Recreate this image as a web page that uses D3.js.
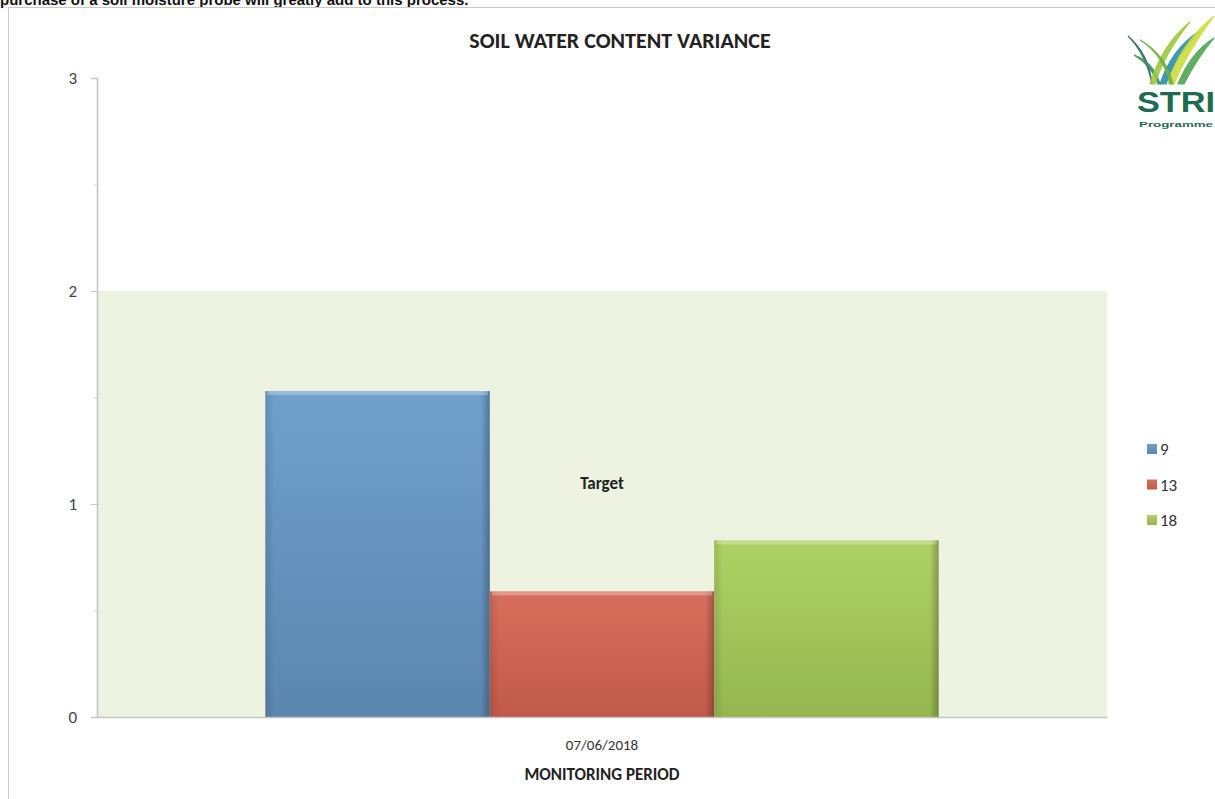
<!DOCTYPE html>
<html>
<head>
<meta charset="utf-8">
<script src="https://cdn.jsdelivr.net/npm/d3@7"></script>
<style>
  html, body { margin: 0; padding: 0; background: #ffffff; overflow: hidden; }
  svg { display: block; }
</style>
</head>
<body>
<svg id="chart" width="1215" height="799"></svg>
<script>
// Chart data
const categories = ["07/06/2018"];
const seriesNames = ["9", "13", "18"];
const seriesValues = [1.53, 0.59, 0.83];
const targetRange = [0, 2];
const yTicks = [0, 1, 2, 3];
const yMinorTicks = [0.5, 1.5, 2.5];

const svg = d3.select("#chart");
const font = "Carlito, Calibri, Lato, 'Open Sans', sans-serif";

// Report text running above the chart frame
svg.append("text")
  .attr("x", 0).attr("y", 5)
  .attr("font-family", "'Liberation Sans', Arial, sans-serif")
  .attr("font-size", 15).attr("font-weight", "bold").attr("fill", "#111")
  .text("purchase of a soil moisture probe will greatly add to this process.");

// Chart frame
svg.append("rect")
  .attr("x", 8.5).attr("y", 7.5).attr("width", 1230).attr("height", 800)
  .attr("fill", "#fff").attr("stroke", "#c8c8c8").attr("stroke-width", 1);

const margin = { left: 97, right: 108, top: 78, bottom: 82 };
const W = 1215, H = 799;
const x0 = margin.left, x1 = W - margin.right;
const y0 = H - margin.bottom, y1 = margin.top;

const y = d3.scaleLinear().domain([0, 3]).range([y0, y1]);
const xCat = d3.scaleBand().domain(categories).range([x0, x1]).paddingInner(0).paddingOuter(0.25);
const xSeries = d3.scaleBand().domain(seriesNames).range([0, xCat.bandwidth()]).padding(0);

// Target band
svg.append("rect")
  .attr("x", x0).attr("y", y(targetRange[1]))
  .attr("width", x1 - x0).attr("height", y(targetRange[0]) - y(targetRange[1]))
  .attr("fill", "#EEF2E1");

// Gradients for bevelled bars
const defs = svg.append("defs");
const shades = [
  ["#6FA0CC", "#5B86AE"],
  ["#D86F5C", "#BF5A4A"],
  ["#AFD266", "#95B64F"]
];
seriesNames.forEach((s, i) => {
  const g = defs.append("linearGradient").attr("id", "grad" + i)
    .attr("x1", 0).attr("y1", 0).attr("x2", 0).attr("y2", 1);
  g.append("stop").attr("offset", "0%").attr("stop-color", shades[i][0]);
  g.append("stop").attr("offset", "100%").attr("stop-color", shades[i][1]);
  const h = defs.append("linearGradient").attr("id", "side" + i)
    .attr("x1", 0).attr("y1", 0).attr("x2", 1).attr("y2", 0);
  h.append("stop").attr("offset", "0%").attr("stop-color", "#000").attr("stop-opacity", 0.12);
  h.append("stop").attr("offset", "4%").attr("stop-color", "#000").attr("stop-opacity", 0);
  h.append("stop").attr("offset", "96%").attr("stop-color", "#000").attr("stop-opacity", 0);
  h.append("stop").attr("offset", "100%").attr("stop-color", "#000").attr("stop-opacity", 0.25);
});

// Bars
const barG = svg.append("g");
categories.forEach(cat => {
  seriesNames.forEach((s, i) => {
    const bx = xCat(cat) + xSeries(s);
    const by = y(seriesValues[i]);
    const bw = xSeries.bandwidth();
    const bh = y(0) - by;
    barG.append("rect").attr("x", bx).attr("y", by).attr("width", bw).attr("height", bh)
      .attr("fill", `url(#grad${i})`);
    barG.append("rect").attr("x", bx).attr("y", by).attr("width", bw).attr("height", bh)
      .attr("fill", `url(#side${i})`);
    // highlight strip along top edge
    barG.append("rect").attr("x", bx + 2).attr("y", by).attr("width", bw - 4).attr("height", 4)
      .attr("fill", "#fff").attr("opacity", 0.28);
  });
});

// Target label
svg.append("text")
  .attr("x", xCat(categories[0]) + xCat.bandwidth() / 2)
  .attr("y", y(1.1) + 6)
  .attr("text-anchor", "middle")
  .attr("font-family", font).attr("font-size", 17).attr("font-weight", "bold").attr("fill", "#222")
  .text("Target");

// Y axis
const yAxis = d3.axisLeft(y).tickValues(yTicks).tickSize(6).tickPadding(14).tickFormat(d3.format("d"));
const yg = svg.append("g").attr("transform", `translate(${x0},0)`).call(yAxis);
yg.attr("font-size", null).attr("font-family", null);
yg.select(".domain").attr("stroke", "#c4c4c4").attr("stroke-width", 1.5);
yg.selectAll(".tick line").attr("stroke", "#c4c4c4");
yg.selectAll(".tick text").style("font-family", font).style("font-size", "17px").attr("fill", "#444");
svg.append("g").attr("transform", `translate(${x0},0)`)
  .call(d3.axisLeft(y).tickValues(yMinorTicks).tickSize(3).tickFormat(""))
  .call(g => g.select(".domain").remove())
  .selectAll("line").attr("stroke", "#d0d0d0");

// X axis
const xg = svg.append("g").attr("transform", `translate(0,${y0})`)
  .call(d3.axisBottom(xCat).tickSize(0).tickPadding(22));
xg.attr("font-size", null).attr("font-family", null);
xg.select(".domain").attr("stroke", "#c4c4c4").attr("stroke-width", 1.5);
xg.selectAll(".tick text").style("font-family", font).style("font-size", "15px").attr("fill", "#333");

// Axis title
svg.append("text")
  .attr("x", xCat(categories[0]) + xCat.bandwidth() / 2).attr("y", 780)
  .attr("text-anchor", "middle")
  .attr("font-family", font).attr("font-size", 17).attr("font-weight", "bold").attr("fill", "#222")
  .text("MONITORING PERIOD");

// Chart title
svg.append("text")
  .attr("x", 620).attr("y", 48)
  .attr("text-anchor", "middle")
  .attr("font-family", font).attr("font-size", 22).attr("font-weight", "bold").attr("fill", "#222")
  .text("SOIL WATER CONTENT VARIANCE");

// Legend
const legend = svg.append("g").attr("transform", "translate(1147,449)");
seriesNames.forEach((s, i) => {
  const row = legend.append("g").attr("transform", `translate(0,${i * 35.5})`);
  row.append("rect").attr("x", 0).attr("y", -5).attr("width", 10).attr("height", 10)
    .attr("fill", `url(#grad${i})`);
  row.append("text").attr("x", 13).attr("y", 6)
    .attr("font-family", font).attr("font-size", 17).attr("fill", "#333").text(s);
});

// STRI logo: grass blades above the wordmark
const logo = svg.append("g");
const blades = [
  { d: "M1128,36 C1140,48 1148,64 1152,84 C1150,64 1142,48 1128,36 Z", c: "#2F6E55" },
  { d: "M1134,55 C1146,62 1154,72 1158,84 L1160,84 C1156,70 1148,60 1134,55 Z", c: "#3E8A66" },
  { d: "M1150,84 C1158,58 1170,38 1190,22 C1174,42 1162,62 1155,84 Z", c: "#9CC83E" },
  { d: "M1160,84 C1168,60 1180,44 1198,32 C1184,48 1172,66 1166,84 Z", c: "#2B8EA8" },
  { d: "M1168,84 C1176,56 1192,34 1214,16 C1198,38 1184,60 1174,84 Z", c: "#C9DD3A" },
  { d: "M1178,84 C1186,64 1198,48 1214,38 C1202,52 1192,68 1184,84 Z", c: "#4FA553" },
  { d: "M1140,40 C1156,50 1166,66 1170,84 L1173,84 C1168,64 1158,50 1140,40 Z", c: "#6FAE47" }
];
blades.forEach(b => logo.append("path").attr("d", b.d).attr("fill", b.c)
  .attr("stroke", b.c).attr("stroke-width", 1.2).attr("opacity", 0.9));
logo.append("text").attr("x", 1137).attr("y", 112)
  .attr("font-family", "'Liberation Sans Narrow', 'Liberation Sans', Arial, sans-serif")
  .attr("font-size", 30).attr("font-weight", "bold")
  .attr("fill", "#1F6B52").attr("textLength", 78).attr("lengthAdjust", "spacingAndGlyphs").text("STRI");
logo.append("text").attr("x", 1139).attr("y", 127)
  .attr("font-family", "'Liberation Sans', Arial, sans-serif").attr("font-size", 8).attr("font-weight", "bold")
  .attr("fill", "#1F6B52").attr("textLength", 74).attr("lengthAdjust", "spacingAndGlyphs").text("Programme");
</script>
</body>
</html>
